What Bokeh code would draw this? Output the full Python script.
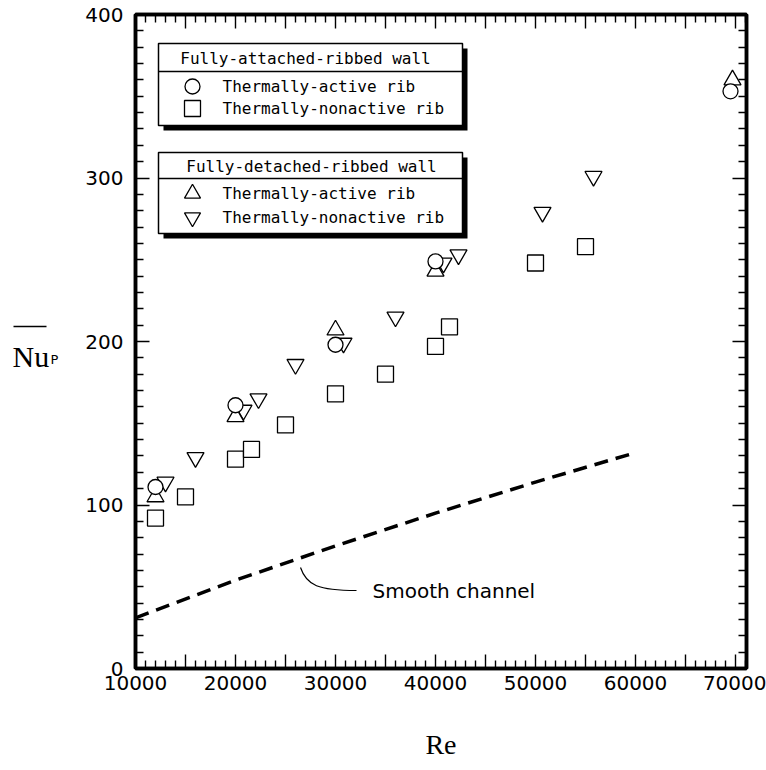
from bokeh.plotting import figure
from bokeh.layouts import row
from bokeh.models import FixedTicker, LinearAxis, Range1d
from bokeh.core.properties import value
from bokeh.embed import file_html
from bokeh.resources import INLINE

# ---------------- data ----------------
re_att_active = [12000, 20000, 30000, 40000, 69500]
nu_att_active = [111, 161, 198, 249, 353]

re_att_non = [12000, 15000, 20000, 21600, 25000, 30000, 35000, 40000, 41400, 50000, 55000]
nu_att_non = [92, 105, 128, 134, 149, 168, 180, 197, 209, 248, 258]

re_det_active = [12000, 20000, 30000, 40000, 69700]
nu_det_active = [105, 154, 207, 243, 360]

re_det_non = [13000, 16000, 20800, 22300, 26000, 30800, 36000, 40800, 42300, 50700, 55800]
nu_det_non = [114, 129, 158, 165, 186, 199, 215, 248, 253, 279, 301]

re_smooth = [10000, 20000, 30000, 40000, 50000, 60000]
nu_smooth = [31, 54, 75, 95, 114, 132]

x_major = [10000, 15000, 20000, 25000, 30000, 35000, 40000, 45000, 50000, 55000, 60000, 65000, 70000]
x_labels = ["10000", "", "20000", "", "30000", "", "40000", "", "50000", "", "60000", "", "70000"]
y_major = [0, 100, 200, 300, 400]
y_labels = ["0", "100", "200", "300", "400"]

legend1_title = "Fully-attached-ribbed wall"
legend2_title = "Fully-detached-ribbed wall"
entry_active = "Thermally-active rib"
entry_non = "Thermally-nonactive rib"

# ---------------- layout helpers ----------------
X0, X1 = 10000, 71100
Y0, Y1 = 0, 400
W, H = 766, 770
LW = 70                      # width of the side panel holding the y label
L, R, T, B = 135, 746, 14, 668   # frame edges in page pixels


def fx(px):
    return X0 + (px - L) * (X1 - X0) / (R - L)


def fy(py):
    return Y0 + (B - py) * (Y1 - Y0) / (B - T)


# main plot
p = figure(width=W - LW, height=H, x_range=Range1d(X0, X1), y_range=Range1d(Y0, Y1),
           output_backend="svg", toolbar_location=None,
           x_axis_location=None, y_axis_location=None,
           min_border_left=L - LW, min_border_right=W - R, min_border_top=T,
           min_border_bottom=H - B)
p.grid.visible = False
p.outline_line_color = "black"
p.outline_line_width = 3.5

# side panel with the overlined Nu_P label (shares the vertical range of the plot)
lf = figure(width=LW, height=H, x_range=Range1d(0, LW), y_range=p.y_range,
            output_backend="svg", toolbar_location=None, min_border=0,
            min_border_top=T, min_border_bottom=H - B,
            x_axis_location=None, y_axis_location=None)
lf.grid.visible = False
lf.outline_line_color = None
lf.text(x=[12], y=[fy(356)], text=["Nu"], text_font=value("Liberation Serif"),
        text_font_size="30px", text_baseline="alphabetic", text_align="left", text_color="black")
lf.text(x=[50], y=[fy(359)], text=["P"], text_font=value("DejaVu Sans"),
        text_font_size="13px", text_baseline="alphabetic", text_align="left", text_color="black")
lf.segment(x0=[13], y0=[fy(326)], x1=[46], y1=[fy(326)], line_color="black", line_width=1.6)

xt = FixedTicker(ticks=x_major,
                 minor_ticks=[v for v in range(10000, 71001, 1000) if v % 5000])
yt = FixedTicker(ticks=list(range(0, 401, 100)),
                 minor_ticks=[v for v in range(0, 401, 10) if v % 100])

bottom = LinearAxis()
left = LinearAxis()
top = LinearAxis()
right = LinearAxis()
p.add_layout(bottom, "below")
p.add_layout(left, "left")
p.add_layout(top, "above")
p.add_layout(right, "right")

for ax, tk in [(bottom, xt), (top, xt), (left, yt), (right, yt)]:
    ax.ticker = tk
    ax.axis_line_width = 3.5
    ax.axis_line_color = "black"
    ax.major_tick_in = 14
    ax.major_tick_out = 0
    ax.minor_tick_in = 8
    ax.minor_tick_out = 0
    ax.major_tick_line_width = 1.4
    ax.minor_tick_line_width = 1.4
    ax.major_tick_line_color = "black"
    ax.minor_tick_line_color = "black"

for ax in (top, right):
    ax.major_label_text_font_size = "0px"
    ax.major_label_standoff = 0
top.major_label_overrides = {v: "" for v in x_major}
right.major_label_overrides = {v: "" for v in y_major}

bottom.major_label_overrides = {v: s for v, s in zip(x_major, x_labels)}
bottom.major_label_text_font = "DejaVu Sans"
bottom.major_label_text_font_size = "20px"
bottom.major_label_text_color = "black"
bottom.major_label_standoff = 7
bottom.axis_label = "Re"
bottom.axis_label_text_font = "Liberation Serif"
bottom.axis_label_text_font_style = "normal"
bottom.axis_label_text_font_size = "28px"
bottom.axis_label_text_color = "black"
bottom.axis_label_standoff = 36

left.major_label_overrides = {v: s for v, s in zip(y_major, y_labels)}
left.major_label_text_font = "DejaVu Sans"
left.major_label_text_font_size = "20px"
left.major_label_text_color = "black"
left.major_label_standoff = 12

# ---------------- smooth channel line ----------------
p.line(re_smooth, nu_smooth, line_color="black", line_width=3.5, line_dash="14 8")
p.bezier(x0=[fx(300)], y0=[fy(567)], x1=[fx(356)], y1=[fy(590)],
         cx0=[fx(306)], cy0=[fy(585)], cx1=[fx(318)], cy1=[fy(590)],
         line_color="black", line_width=1.2)
p.text(x=[fx(372)], y=[fy(590)], text=["Smooth channel"], text_font=value("DejaVu Sans"),
       text_font_size="20px", text_align="left", text_baseline="middle", text_color="black")

# ---------------- legend boxes (drawn) ----------------
mono = value("DejaVu Sans Mono")


def legend_box(top_px, bot_px, sep_px, title, title_cx, rows):
    lft, rgt = 158, 462
    p.quad(left=[fx(lft + 5)], right=[fx(rgt + 5)], top=[fy(top_px + 5)], bottom=[fy(bot_px + 5)],
           fill_color="black", line_color=None)
    p.quad(left=[fx(lft)], right=[fx(rgt)], top=[fy(top_px)], bottom=[fy(bot_px)],
           fill_color="white", line_color="black", line_width=1.5)
    p.segment(x0=[fx(lft)], y0=[fy(sep_px)], x1=[fx(rgt)], y1=[fy(sep_px)],
              line_color="black", line_width=1.5)
    p.text(x=[fx(title_cx)], y=[fy((top_px + sep_px) / 2 + 1)], text=[title], text_font=mono,
           text_font_size="16px", text_align="center", text_baseline="middle", text_color="black")
    for (ypx, marker, label) in rows:
        p.scatter(x=[fx(192)], y=[fy(ypx)], marker=marker, size=16 if marker != "circle" else 15,
                  fill_color="white", line_color="black", line_width=1.3)
        p.text(x=[fx(222)], y=[fy(ypx)], text=[label], text_font=mono, text_font_size="16px",
               text_align="left", text_baseline="middle", text_color="black")


legend_box(43, 125, 71, legend1_title, 305,
           [(86, "circle", entry_active), (108, "square", entry_non)])
legend_box(152, 233, 178, legend2_title, 311,
           [(193, "triangle", entry_active), (217, "inverted_triangle", entry_non)])

# ---------------- data markers ----------------
mk = dict(fill_color="white", line_color="black", line_width=1.3)
p.scatter(re_att_non, nu_att_non, marker="square", size=16, **mk)
p.scatter(re_det_non, nu_det_non, marker="inverted_triangle", size=17, **mk)
p.scatter(re_det_active, nu_det_active, marker="triangle", size=17, **mk)
p.scatter(re_att_active, nu_att_active, marker="circle", size=15, **mk)

layout = row(lf, p)
open("out.html", "w").write(file_html(layout, INLINE))
